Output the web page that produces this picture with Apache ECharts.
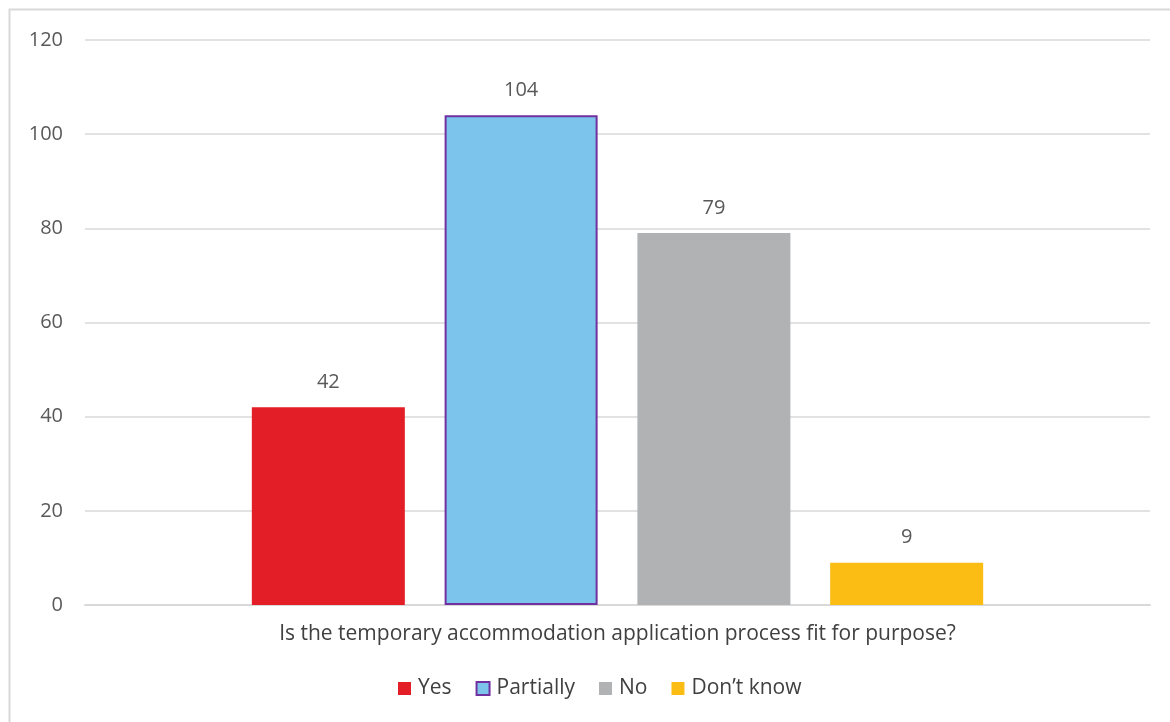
<!DOCTYPE html>
<html><head><meta charset="utf-8">
<script src="https://cdn.jsdelivr.net/npm/echarts@6/dist/echarts.min.js"></script>
<style>html,body{margin:0;padding:0;background:#fff}#c{width:1170px;height:722px}</style>
</head><body><div id="c"></div>
<script>
const category = ['Is the temporary accommodation application process fit for purpose?'];
const seriesNames = ['Yes', 'Partially', 'No', 'Don\u2019t know'];
const yesValues = [42];
const partiallyValues = [104];
const noValues = [79];
const dontKnowValues = [9];
const yTicks = [0, 20, 40, 60, 80, 100, 120];

const colors = ['#E41E26', '#7DC4EC', '#B1B2B4', '#FBBD14'];
const font = 'Open Sans, Noto Sans, sans-serif';
const dataSets = [yesValues, partiallyValues, noValues, dontKnowValues];

const chart = echarts.init(document.getElementById('c'));
chart.setOption({
  animation: false,
  textStyle: { fontFamily: font },
  graphic: [{
    type: 'rect', shape: { x: 9.5, y: 9.5, width: 1200, height: 800 },
    style: { fill: 'none', stroke: '#D9D9D9', lineWidth: 2 }, silent: true, z: -1
  }],
  grid: { left: 85, right: 20, top: 40, bottom: 117, containLabel: false },
  legend: {
    bottom: 18, left: 393, itemWidth: 13, itemHeight: 13, itemGap: 24,
    textStyle: { fontSize: 21, color: '#404040', fontFamily: font, padding: [0, 0, 0, 2] },
    icon: 'rect',
    data: seriesNames
  },
  xAxis: {
    type: 'category', data: category,
    axisLine: { lineStyle: { color: '#D9D9D9', width: 2 } },
    axisTick: { show: false },
    axisLabel: { fontSize: 21, color: '#404040', margin: 19, fontFamily: font }
  },
  yAxis: {
    type: 'value', min: yTicks[0], max: yTicks[yTicks.length - 1], interval: 20,
    axisLine: { show: false }, axisTick: { show: false },
    splitLine: { lineStyle: { color: '#D9D9D9', width: 1.5 } },
    axisLabel: { fontSize: 20, color: '#595959', margin: 22, fontFamily: font }
  },
  series: seriesNames.map((n, i) => ({
    name: n, type: 'bar', data: dataSets[i], barWidth: 153, barGap: '26%',
    itemStyle: i === 1 ? { color: colors[i], borderColor: '#7030A0', borderWidth: 2 } : { color: colors[i] },
    label: { show: true, position: 'top', distance: 15, fontSize: 20, color: '#595959', fontFamily: font }
  }))
});
</script></body></html>
